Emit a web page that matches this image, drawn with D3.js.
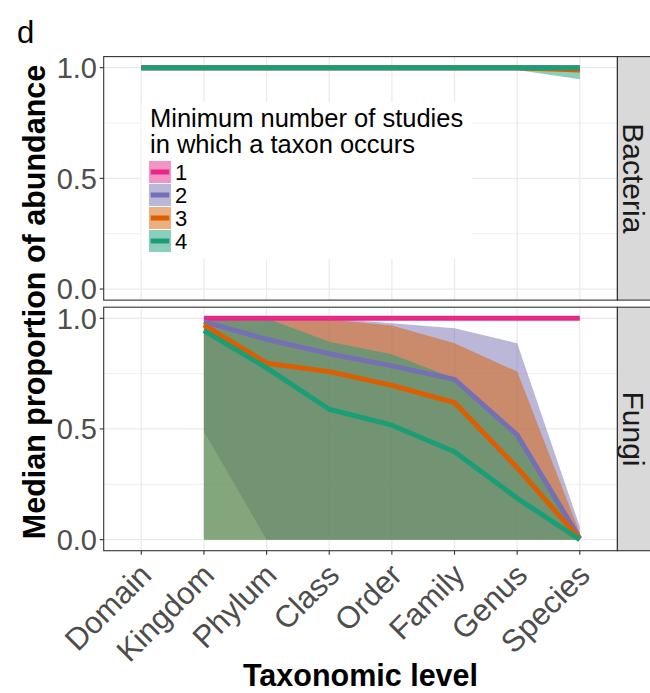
<!DOCTYPE html>
<html>
<head>
<meta charset="utf-8">
<script src="https://cdn.jsdelivr.net/npm/d3@7"></script>
<style>
  body { margin: 0; background: #fff; }
  svg { display: block; }
</style>
</head>
<body>
<svg id="chart" width="650" height="693"></svg>
<script>
const levels = ["Domain", "Kingdom", "Phylum", "Class", "Order", "Family", "Genus", "Species"];
const studyCounts = ["1", "2", "3", "4"];
const seriesColors = ["#E7298A", "#7570B3", "#D95F02", "#1B9E77"];
const facetNames = ["Bacteria", "Fungi"];
const yTicks = [0, 0.5, 1];
const yMinorTicks = [0.25, 0.75];

// one row per minimum number of studies (1..4), one column per level
const bacteriaMedian = [
    [1, 1, 1, 1, 1, 1, 1, 1],
    [1, 1, 1, 1, 1, 1, 1, 0.995],
    [1, 1, 1, 1, 1, 1, 1, 0.99],
    [1, 1, 1, 1, 1, 1, 1, 1]
];
const bacteriaLower = [
    [1, 1, 1, 1, 1, 1, 1, 1],
    [1, 1, 1, 1, 1, 1, 1, 1],
    [1, 1, 1, 1, 1, 1, 1, 1],
    [1, 1, 1, 1, 1, 1, 0.99, 0.948]
];
const bacteriaUpper = [
    [1, 1, 1, 1, 1, 1, 1, 1],
    [1, 1, 1, 1, 1, 1, 1, 1],
    [1, 1, 1, 1, 1, 1, 1, 1],
    [1, 1, 1, 1, 1, 1, 1, 1]
];

const fungiMedian = [
    [null, 1, 1, 1, 1, 1, 1, 1],
    [null, 0.985, 0.905, 0.84, 0.785, 0.724, 0.473, 0.005],
    [null, 0.97, 0.797, 0.759, 0.697, 0.619, 0.325, 0.003],
    [null, 0.944, 0.776, 0.589, 0.517, 0.397, 0.187, 0]
];
const fungiLower = [
    [null, 1, 1, 1, 1, 1, 1, 1],
    [null, 0.488, 0, 0, 0, 0, 0, 0],
    [null, 0, 0, 0, 0, 0, 0, 0],
    [null, 0, 0, 0, 0, 0, 0, 0]
];
const fungiUpper = [
    [null, 1, 1, 1, 1, 1, 1, 1],
    [null, 1, 1, 1, 0.977, 0.955, 0.887, 0.058],
    [null, 1, 1, 0.995, 0.967, 0.887, 0.759, 0.03],
    [null, 1, 1, 0.894, 0.838, 0.728, 0.47, 0.005]
];

const FONT = "'Liberation Sans', Arial, Helvetica, sans-serif";
const PANEL_LEFT = 103.7;
const PANEL_RIGHT = 617.4;
const STRIP_WIDTH = 40;
const LINE_WIDTH = 5;
const RIBBON_ALPHA = 0.5;
const gridColor = "#EBEBEB";
const borderColor = "#333333";
const axisTextColor = "#4D4D4D";

const panelBounds = [
    { top: 56.6, bottom: 300.1 },
    { top: 307.2, bottom: 550.7 }
];

const svg = d3.select("#chart");

const x = d3.scalePoint()
    .domain(levels)
    .range([PANEL_LEFT, PANEL_RIGHT])
    .padding(0.6);

// turns the row arrays into point objects for d3.area / d3.line
function buildSeries(median, lower, upper) {
    return studyCounts.map((s, i) => levels.map((lv, j) => ({
        level: lv,
        med: median[i][j],
        lo: lower[i][j],
        hi: upper[i][j]
    })));
}

function drawPanel(index, series) {
    const bounds = panelBounds[index];
    const y = d3.scaleLinear().domain([-0.05, 1.05]).range([bounds.bottom, bounds.top]);
    const g = svg.append("g").attr("class", `panel-${ index }`);

    g.append("rect")
        .attr("x", PANEL_LEFT)
        .attr("y", bounds.top)
        .attr("width", PANEL_RIGHT - PANEL_LEFT)
        .attr("height", bounds.bottom - bounds.top)
        .attr("fill", "#fff");

    // minor + major grid
    g.selectAll(".minor")
        .data(yMinorTicks)
        .enter()
        .append("line")
        .attr("x1", PANEL_LEFT).attr("x2", PANEL_RIGHT)
        .attr("y1", d => y(d)).attr("y2", d => y(d))
        .attr("stroke", gridColor)
        .attr("stroke-width", 0.8);
    g.selectAll(".major-y")
        .data(yTicks)
        .enter()
        .append("line")
        .attr("x1", PANEL_LEFT).attr("x2", PANEL_RIGHT)
        .attr("y1", d => y(d)).attr("y2", d => y(d))
        .attr("stroke", gridColor)
        .attr("stroke-width", 1.3);
    g.selectAll(".major-x")
        .data(levels)
        .enter()
        .append("line")
        .attr("x1", d => x(d)).attr("x2", d => x(d))
        .attr("y1", bounds.top).attr("y2", bounds.bottom)
        .attr("stroke", gridColor)
        .attr("stroke-width", 1.3);

    const area = d3.area()
        .defined(d => d.lo != null)
        .x(d => x(d.level))
        .y0(d => y(d.lo))
        .y1(d => y(d.hi));

    const line = d3.line()
        .defined(d => d.med != null)
        .x(d => x(d.level))
        .y(d => y(d.med));

    g.selectAll(".ribbon")
        .data(series)
        .enter()
        .append("path")
        .attr("d", area)
        .attr("fill", (d, i) => seriesColors[i])
        .attr("fill-opacity", RIBBON_ALPHA);

    g.selectAll(".series-line")
        .data(series)
        .enter()
        .append("path")
        .attr("d", line)
        .attr("fill", "none")
        .attr("stroke", (d, i) => seriesColors[i])
        .attr("stroke-width", LINE_WIDTH)
        .attr("stroke-linejoin", "round");

    // y axis ticks + labels
    g.selectAll(".ytick")
        .data(yTicks)
        .enter()
        .append("line")
        .attr("x1", PANEL_LEFT - 4).attr("x2", PANEL_LEFT)
        .attr("y1", d => y(d)).attr("y2", d => y(d))
        .attr("stroke", borderColor)
        .attr("stroke-width", 1.1);
    g.selectAll(".ylabel")
        .data(yTicks)
        .enter()
        .append("text")
        .attr("x", 97)
        .attr("y", d => y(d))
        .attr("dy", "0.36em")
        .attr("text-anchor", "end")
        .attr("font-family", FONT)
        .attr("font-size", "29px")
        .attr("fill", axisTextColor)
        .text(d => d3.format(".1f")(d));

    // strip on the right
    g.append("rect")
        .attr("x", PANEL_RIGHT)
        .attr("y", bounds.top)
        .attr("width", STRIP_WIDTH)
        .attr("height", bounds.bottom - bounds.top)
        .attr("fill", "#D9D9D9")
        .attr("stroke", borderColor)
        .attr("stroke-width", 1.1);
    g.append("text")
        .attr("transform", `translate(${ PANEL_RIGHT + 5.3 }, ${ (bounds.top + bounds.bottom) / 2 }) rotate(90)`)
        .attr("text-anchor", "middle")
        .attr("font-family", FONT)
        .attr("font-size", "30px")
        .attr("fill", "#1A1A1A")
        .text(facetNames[index]);

    g.append("rect")
        .attr("x", PANEL_LEFT)
        .attr("y", bounds.top)
        .attr("width", PANEL_RIGHT - PANEL_LEFT)
        .attr("height", bounds.bottom - bounds.top)
        .attr("fill", "none")
        .attr("stroke", borderColor)
        .attr("stroke-width", 1.1);

    return y;
}

function drawLegend() {
    const legend = svg.append("g").attr("transform", "translate(141.5, 102)");
    const bg = legend.append("rect")
        .attr("fill", "#fff")
        .attr("height", 157);

    const title = legend.append("text")
        .attr("font-family", FONT)
        .attr("font-size", "25.5px")
        .attr("fill", "#000");
    title.append("tspan").attr("x", 8.5).attr("y", 24.7).text("Minimum number of studies");
    title.append("tspan").attr("x", 8.5).attr("y", 51.3).text("in which a taxon occurs");

    const keys = legend.selectAll(".key")
        .data(studyCounts)
        .enter()
        .append("g")
        .attr("transform", (d, i) => `translate(7.5, ${ 59 + i * 23 })`);
    keys.append("rect")
        .attr("width", 22)
        .attr("height", 22)
        .attr("fill", (d, i) => seriesColors[i])
        .attr("fill-opacity", RIBBON_ALPHA);
    keys.append("line")
        .attr("x1", 1.7).attr("x2", 20.3)
        .attr("y1", 11).attr("y2", 11)
        .attr("stroke", (d, i) => seriesColors[i])
        .attr("stroke-width", LINE_WIDTH);
    keys.append("text")
        .attr("x", 26)
        .attr("y", 19)
        .attr("font-family", FONT)
        .attr("font-size", "22px")
        .attr("fill", "#000")
        .text(d => d);

    const w = title.node().getBBox().width;
    bg.attr("width", w + 17);
}

function drawXAxis() {
    const bottom = panelBounds[1].bottom;
    svg.selectAll(".xtick")
        .data(levels)
        .enter()
        .append("line")
        .attr("x1", d => x(d)).attr("x2", d => x(d))
        .attr("y1", bottom).attr("y2", bottom + 4)
        .attr("stroke", borderColor)
        .attr("stroke-width", 1.1);
    svg.selectAll(".xlabel")
        .data(levels)
        .enter()
        .append("text")
        .attr("transform", d => `translate(${ x(d) + 12 }, 577) rotate(-45)`)
        .attr("text-anchor", "end")
        .attr("font-family", FONT)
        .attr("font-size", "31px")
        .attr("fill", axisTextColor)
        .text(d => d);
}

function drawTitles() {
    svg.append("text")
        .attr("x", 360.5)
        .attr("y", 686)
        .attr("text-anchor", "middle")
        .attr("font-family", FONT)
        .attr("font-weight", "bold")
        .attr("font-size", "30.5px")
        .attr("fill", "#000")
        .text("Taxonomic level");

    svg.append("text")
        .attr("transform", "translate(45, 302) rotate(-90)")
        .attr("text-anchor", "middle")
        .attr("font-family", FONT)
        .attr("font-weight", "bold")
        .attr("font-size", "30.5px")
        .attr("fill", "#000")
        .text("Median proportion of abundance");

    svg.append("text")
        .attr("x", 17)
        .attr("y", 42.5)
        .attr("font-family", FONT)
        .attr("font-size", "31px")
        .attr("fill", "#000")
        .text("d");
}

drawPanel(0, buildSeries(bacteriaMedian, bacteriaLower, bacteriaUpper));
drawPanel(1, buildSeries(fungiMedian, fungiLower, fungiUpper));
drawLegend();
drawXAxis();
drawTitles();
</script>
</body>
</html>
